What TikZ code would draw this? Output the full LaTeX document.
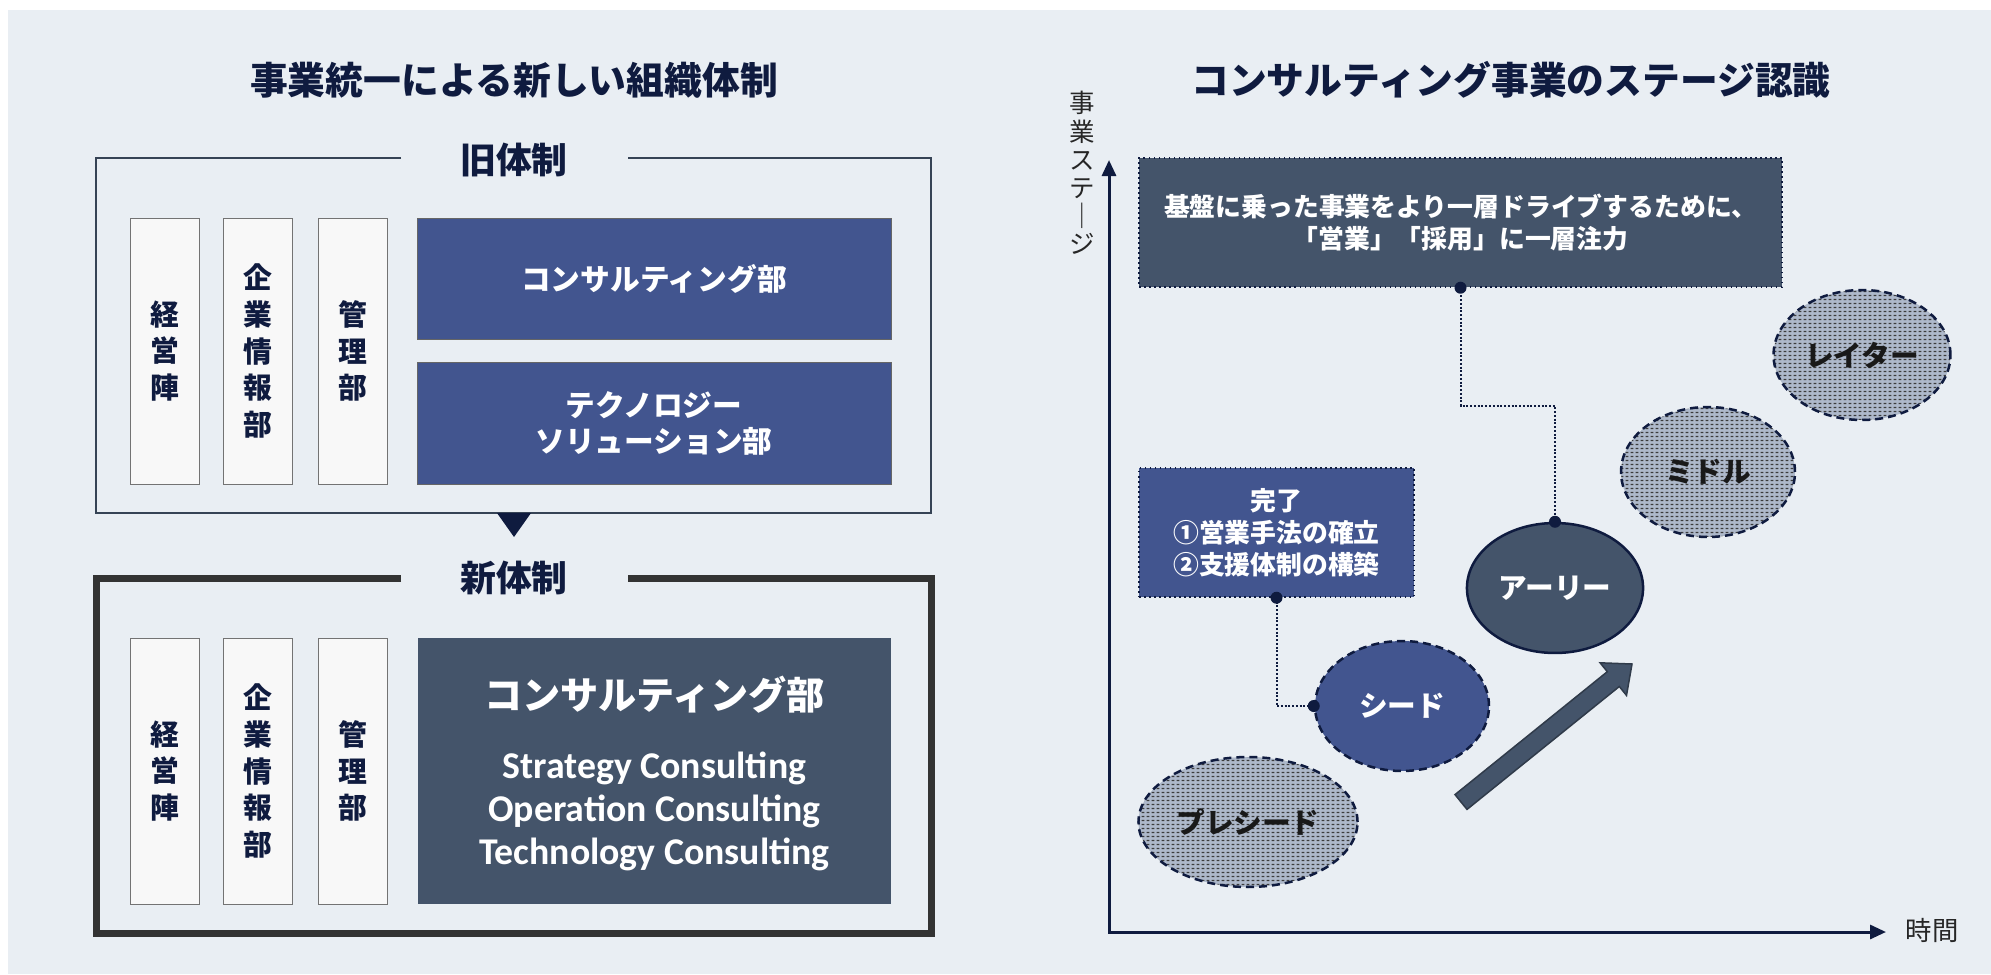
\documentclass[tikz,border=0pt]{standalone}
\usepackage{fontspec}
\setmainfont{Noto Sans CJK JP}
\newfontfamily\latinfont{Carlito}
\usetikzlibrary{arrows.meta, shapes.geometric, patterns}

\definecolor{pagebg}{HTML}{E9EEF3}
\definecolor{navy}{HTML}{0F1B3F}
\definecolor{deptblue}{HTML}{42558F}
\definecolor{slate}{HTML}{44546A}
\definecolor{pillarfill}{HTML}{F8F8F8}
\definecolor{stagegray}{HTML}{AEB9CB}
\definecolor{dashgray}{HTML}{3C3C3C}

\pgfdeclarepatternformonly{stagedash}{\pgfqpoint{0pt}{0pt}}{\pgfqpoint{2.9pt}{2.3pt}}{\pgfqpoint{2.9pt}{2.3pt}}{%
  \pgfpathrectangle{\pgfqpoint{0.4pt}{0.7pt}}{\pgfqpoint{1.8pt}{0.8pt}}\pgfusepath{fill}}

\begin{document}
\begin{tikzpicture}[x=0.02cm, y=-0.02cm, >=Stealth]
  % Node style
  \tikzset{
    heading/.style={font=\fontsize{21.5}{25}\selectfont\bfseries, text=navy},
    framelabel/.style={font=\fontsize{20.4}{24}\selectfont\bfseries, text=navy},
    pillar/.style={draw=black!55, fill=pillarfill, minimum width=1.38cm, minimum height=5.32cm,
      align=center, text=navy, font=\fontsize{16.4}{21}\selectfont\bfseries},
    dept/.style={draw=black!60, fill=deptblue, minimum width=9.48cm, minimum height=2.43cm,
      align=center, text=white, font=\fontsize{16.9}{20}\selectfont\bfseries},
    note/.style={draw=navy, dotted, line width=0.03cm, align=center, text=white},
    stage/.style={ellipse, minimum width=3.48cm, minimum height=2.6cm, line width=0.05cm,
      draw=navy, font=\fontsize{16.3}{18}\selectfont\bfseries},
    future/.style={stage, dash pattern=on 0.16cm off 0.1cm, preaction={fill=stagegray},
      pattern=stagedash, pattern color=dashgray, text=black!90},
    link/.style={draw=navy, line width=0.04cm, densely dotted},
    pin/.style={circle, fill=navy, inner sep=0pt, minimum size=0.24cm},
  }
  \fill[pagebg] (8,10) rectangle (1991,974);
  \useasboundingbox (0,0) rectangle (1991,974);

  % Titles
  \node[heading] (lefttitle) at (514,80) {事業統一による新しい組織体制};
  \node[heading] (righttitle) at (1511,80) {コンサルティング事業のステージ認識};

  % Old organisation
  \draw[draw=slate!80!black, line width=0.04cm] (401,158) -- (96,158) -- (96,513) -- (931,513) -- (931,158) -- (628,158);
  \node[framelabel] (oldlabel) at (514,160) {旧体制};
  \node[pillar] (oldmgmt) at (164.5,351) {経\\営\\陣};
  \node[pillar] (oldinfo) at (258,351) {企\\業\\情\\報\\部};
  \node[pillar] (oldadmin) at (352.5,351) {管\\理\\部};
  \node[dept] (oldconsult) at (654,279) {コンサルティング部};
  \node[dept] (oldtech) at (654,423.5) {テクノロジー\\ソリューション部};

  \fill[navy] (497,513) -- (531,513) -- (514,537) -- cycle;

  % New organisation
  \draw[draw=black!80, line width=0.14cm] (401,578) -- (96,578) -- (96,933) -- (931,933) -- (931,578) -- (628,578);
  \node[framelabel] (newlabel) at (514,578) {新体制};
  \node[pillar] (newmgmt) at (164.5,771) {経\\営\\陣};
  \node[pillar] (newinfo) at (258,771) {企\\業\\情\\報\\部};
  \node[pillar] (newadmin) at (352.5,771) {管\\理\\部};
  \node[dept, fill=slate, draw=none, minimum height=5.32cm] (newconsult) at (654.5,771) {};
  \node[font=\fontsize{21.7}{25}\selectfont\bfseries, text=white] (newname) at (654.5,695) {コンサルティング部};
  \node[font=\latinfont\fontsize{21.5}{24.5}\selectfont\bfseries, text=white, align=center] (newunits) at (654.5,811)
    {Strategy Consulting\\Operation Consulting\\Technology Consulting};

  % Axes
  \coordinate (origin) at (1109,932);
  \coordinate (ytop) at (1109,160);
  \coordinate (xend) at (1886,932);
  \draw[navy, line width=0.06cm, {Triangle[length=0.32cm, width=0.28cm]}-{Triangle[length=0.32cm, width=0.28cm]}]
    (ytop) -- (origin) -- (xend);
  \node[font=\fontsize{14.5}{16}\selectfont, text=black!85, align=center] (ylabel) at (1082,173) {事\\業\\ス\\テ\\｜\\ジ};
  \node[font=\fontsize{15}{18}\selectfont, text=black!85] (xlabel) at (1932,930) {時間};

  % Notes
  \node[note, fill=slate, minimum width=12.86cm, minimum height=2.58cm, font=\fontsize{14.7}{18.7}\selectfont\bfseries]
    (drive) at (1460.5,222.5) {基盤に乗った事業をより一層ドライブするために、\\「営業」「採用」に一層注力};
  \node[note, fill=deptblue, minimum width=5.5cm, minimum height=2.58cm, font=\fontsize{14.7}{18.1}\selectfont\bfseries]
    (done) at (1276.5,532.5) {完了\\①営業手法の確立\\②支援体制の構築};

  % Stages
  \node[future] (preseed) at (1248,822) {プレシード};
  \node[stage, fill=deptblue, dash pattern=on 0.16cm off 0.1cm, text=white] (seed) at (1402,706) {シード};
  \node[stage, fill=slate, text=white] (early) at (1555,588) {アーリー};
  \node[future] (middle) at (1708,472) {ミドル};
  \node[future] (later) at (1862,355) {レイター};

  \filldraw[fill=slate, draw=slate!70!black, line width=0.03cm] (1455.0,794.6) -- (1607.3,671.7) -- (1600.1,662.8)
    -- (1632,664) -- (1626.5,695.4) -- (1619.3,686.5) -- (1467.0,809.4) -- cycle;

  % Links
  \draw[link] (drive.south) -- ++(0,118) -| (early.north);
  \draw[link] (done.south) |- (seed.west);
  \node[pin] (drivepin) at (drive.south) {};
  \node[pin] (earlypin) at (early.north) {};
  \node[pin] (donepin) at (done.south) {};
  \node[pin] (seedpin) at (seed.west) {};
\end{tikzpicture}
\end{document}
